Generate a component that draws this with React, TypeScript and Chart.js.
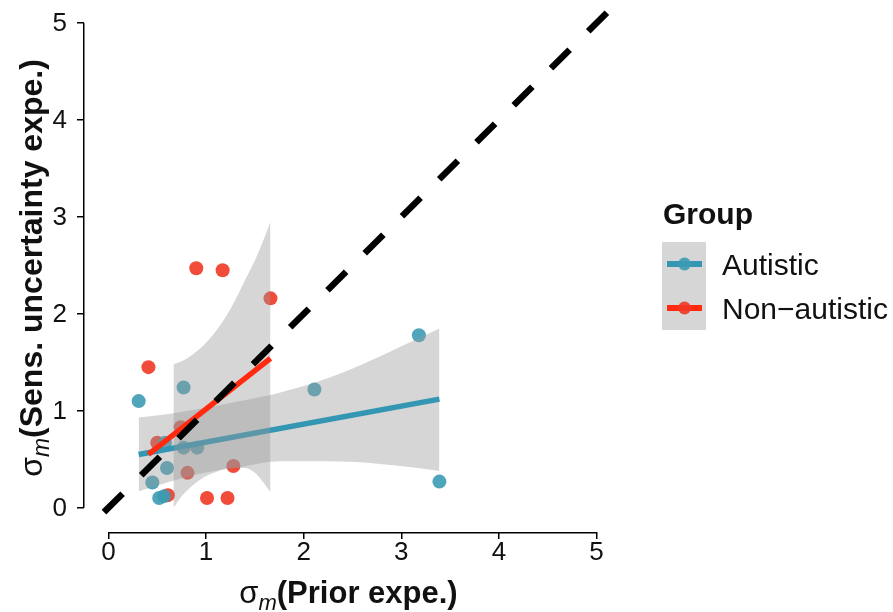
import React, { useEffect, useRef } from 'react';
import { Chart, registerables } from 'chart.js';

Chart.register(...registerables);

// ---- data ----
const tickValues = [0, 1, 2, 3, 4, 5];
const groupNames = ['Autistic', 'Non\u2212autistic'];

const autisticX = [0.31, 0.77, 0.58, 0.77, 0.91, 0.60, 0.45, 0.52, 0.57, 2.11, 3.18, 3.39];
const autisticY = [1.10, 1.24, 0.67, 0.62, 0.62, 0.41, 0.26, 0.10, 0.12, 1.22, 1.78, 0.27];

const nonAutisticX = [0.90, 1.17, 1.66, 0.41, 0.50, 0.74, 0.81, 1.28, 0.61, 1.01, 1.22];
const nonAutisticY = [2.47, 2.45, 2.16, 1.45, 0.67, 0.83, 0.36, 0.43, 0.13, 0.10, 0.10];

const autisticFitX = [0.31, 3.39];
const autisticFitY = [0.55, 1.12];
const nonAutisticFitX = [0.41, 1.66];
const nonAutisticFitY = [0.55, 1.54];

const autisticBandX = [0.31, 0.635, 0.94, 1.35, 1.76, 2.17, 2.58, 2.99, 3.39];
const autisticBandUpper = [0.93, 0.97, 1.02, 1.10, 1.19, 1.31, 1.47, 1.66, 1.85];
const autisticBandLower = [0.17, 0.27, 0.35, 0.42, 0.48, 0.48, 0.47, 0.43, 0.38];

const nonAutisticBandX = [0.666, 0.75, 0.85, 0.97, 1.10, 1.25, 1.40, 1.50, 1.58, 1.66];
const nonAutisticBandUpper = [1.48, 1.51, 1.57, 1.67, 1.82, 2.05, 2.35, 2.55, 2.74, 2.95];
const nonAutisticBandLower = [0.00, 0.12, 0.22, 0.31, 0.37, 0.41, 0.41, 0.36, 0.27, 0.16];

const identityX = [-0.22, 5.25];

// ---- styles ----
const FONT = '"Liberation Sans", Arial, sans-serif';
const TEAL_PT = 'rgba(60,155,180,0.9)';
const RED_PT = 'rgba(240,55,35,0.9)';
const TEAL_LINE = '#3397b3';
const RED_LINE = '#ff2a10';
const BAND = 'rgba(153,153,153,0.4)';
const TEXT = '#111';

const pts = (xs: number[], ys: number[]) => xs.map((x, i) => ({ x, y: ys[i] }));

function drawRich(
  ctx: CanvasRenderingContext2D,
  parts: { text: string; font: string; dy: number }[],
  cx: number,
  baseline: number
) {
  let total = 0;
  const widths = parts.map((p) => {
    ctx.font = p.font;
    const w = ctx.measureText(p.text).width;
    total += w;
    return w;
  });
  let x = cx - total / 2;
  ctx.textAlign = 'left';
  ctx.textBaseline = 'alphabetic';
  parts.forEach((p, i) => {
    ctx.font = p.font;
    ctx.fillText(p.text, x, baseline + p.dy);
    x += widths[i];
  });
}

const decor = {
  id: 'decor',
  afterDraw(chart: any) {
    const { ctx, chartArea, scales } = chart;
    const xs = scales.x;
    const ys = scales.y;
    ctx.save();
    // capped axis lines
    ctx.strokeStyle = '#000';
    ctx.lineWidth = 1.5;
    ctx.beginPath();
    ctx.moveTo(xs.getPixelForValue(tickValues[0]), chartArea.bottom + 0.75);
    ctx.lineTo(xs.getPixelForValue(tickValues[tickValues.length - 1]), chartArea.bottom + 0.75);
    ctx.moveTo(chartArea.left - 0.25, ys.getPixelForValue(tickValues[0]));
    ctx.lineTo(chartArea.left - 0.25, ys.getPixelForValue(tickValues[tickValues.length - 1]));
    ctx.stroke();

    // y tick labels
    ctx.fillStyle = TEXT;
    ctx.font = `26px ${FONT}`;
    ctx.textAlign = 'right';
    ctx.textBaseline = 'middle';
    tickValues.forEach((v) => {
      ctx.fillText(String(v), chartArea.left - 17, ys.getPixelForValue(v) + 1);
    });

    // axis titles
    const cx = (xs.getPixelForValue(0) + xs.getPixelForValue(5)) / 2;
    drawRich(
      ctx,
      [
        { text: '\u03c3', font: `31px ${FONT}`, dy: 0 },
        { text: 'm', font: `italic 22px ${FONT}`, dy: 7 },
        { text: '(Prior expe.)', font: `bold 31px ${FONT}`, dy: 0 },
      ],
      cx - 4,
      603
    );
    const cy = 268;
    ctx.save();
    ctx.translate(42, cy);
    ctx.rotate(-Math.PI / 2);
    drawRich(
      ctx,
      [
        { text: '\u03c3', font: `32px ${FONT}`, dy: 0 },
        { text: 'm', font: `italic 23px ${FONT}`, dy: 7 },
        { text: '(Sens. uncertainty expe.)', font: `bold 32px ${FONT}`, dy: 0 },
      ],
      0,
      0
    );
    ctx.restore();

    // legend
    ctx.fillStyle = TEXT;
    ctx.font = `bold 30px ${FONT}`;
    ctx.textAlign = 'left';
    ctx.textBaseline = 'alphabetic';
    ctx.fillText('Group', 663, 224);
    ctx.fillStyle = BAND;
    ctx.fillRect(662, 242, 44, 88);
    const rows = [
      { y: 264, line: TEAL_LINE, pt: TEAL_PT, label: groupNames[0], base: 275 },
      { y: 308, line: RED_LINE, pt: RED_PT, label: groupNames[1], base: 319 },
    ];
    rows.forEach((r) => {
      ctx.strokeStyle = r.line;
      ctx.lineWidth = 6;
      ctx.beginPath();
      ctx.moveTo(667, r.y);
      ctx.lineTo(702, r.y);
      ctx.stroke();
      ctx.fillStyle = r.pt;
      ctx.beginPath();
      ctx.arc(684.5, r.y, 6.5, 0, Math.PI * 2);
      ctx.fill();
      ctx.fillStyle = TEXT;
      ctx.font = `30px ${FONT}`;
      ctx.fillText(r.label, 722, r.base);
    });
    ctx.restore();
  },
};

export default function App() {
  const ref = useRef<HTMLCanvasElement>(null);

  useEffect(() => {
    const canvas = ref.current;
    if (!canvas) return;
    const bandCommon = {
      borderColor: 'rgba(0,0,0,0)',
      borderWidth: 0,
      pointRadius: 0,
      cubicInterpolationMode: 'monotone' as const,
    };
    const chart = new Chart(canvas, {
      type: 'line',
      data: {
        datasets: [
          {
            label: 'identity',
            data: pts(identityX, identityX),
            borderColor: '#000',
            borderWidth: 6.5,
            borderDash: [26.25, 26.25],
            borderDashOffset: 28.5,
            pointRadius: 0,
            fill: false,
            order: 0,
          },
          {
            label: groupNames[1] + ' fit',
            data: pts(nonAutisticFitX, nonAutisticFitY),
            borderColor: RED_LINE,
            borderWidth: 5.5,
            pointRadius: 0,
            fill: false,
            order: 1,
          },
          {
            label: groupNames[1] + ' upper',
            data: pts(nonAutisticBandX, nonAutisticBandUpper),
            ...bandCommon,
            fill: '+1',
            backgroundColor: BAND,
            order: 2,
          },
          {
            label: groupNames[1] + ' lower',
            data: pts(nonAutisticBandX, nonAutisticBandLower),
            ...bandCommon,
            fill: false,
            order: 2,
          },
          {
            label: groupNames[0] + ' fit',
            data: pts(autisticFitX, autisticFitY),
            borderColor: TEAL_LINE,
            borderWidth: 5.5,
            pointRadius: 0,
            fill: false,
            order: 3,
          },
          {
            label: groupNames[0] + ' upper',
            data: pts(autisticBandX, autisticBandUpper),
            ...bandCommon,
            fill: '+1',
            backgroundColor: BAND,
            order: 4,
          },
          {
            label: groupNames[0] + ' lower',
            data: pts(autisticBandX, autisticBandLower),
            ...bandCommon,
            fill: false,
            order: 4,
          },
          {
            label: groupNames[0],
            data: pts(autisticX, autisticY),
            showLine: false,
            pointRadius: 7,
            pointBackgroundColor: TEAL_PT,
            pointBorderWidth: 0,
            borderColor: 'rgba(0,0,0,0)',
            order: 5,
          },
          {
            label: groupNames[1],
            data: pts(nonAutisticX, nonAutisticY),
            showLine: false,
            pointRadius: 7,
            pointBackgroundColor: RED_PT,
            pointBorderWidth: 0,
            borderColor: 'rgba(0,0,0,0)',
            order: 6,
          },
        ],
      },
      options: {
        responsive: false,
        animation: false,
        devicePixelRatio: 1,
        layout: { autoPadding: false, padding: { left: 0, top: 0, right: 272, bottom: 0 } },
        plugins: {
          legend: { display: false },
          tooltip: { enabled: false },
          title: { display: false },
        },
        scales: {
          x: {
            type: 'linear',
            min: -0.25,
            max: 5.25,
            afterBuildTicks: (s: any) => {
              s.ticks = tickValues.map((v) => ({ value: v }));
            },
            afterFit: (s: any) => {
              s.height = 80;
            },
            grid: {
              display: true,
              drawOnChartArea: false,
              drawTicks: true,
              tickLength: 7,
              color: '#000',
              lineWidth: 1.5,
            },
            border: { display: false },
            ticks: {
              font: { family: FONT, size: 26 },
              color: TEXT,
              padding: -2,
              maxRotation: 0,
              autoSkip: false,
              callback: (v: any) => String(v),
            },
          },
          y: {
            type: 'linear',
            min: -0.25,
            max: 5.237,
            afterBuildTicks: (s: any) => {
              s.ticks = tickValues.map((v) => ({ value: v }));
            },
            afterFit: (s: any) => {
              s.width = 84;
            },
            grid: {
              display: true,
              drawOnChartArea: false,
              drawTicks: true,
              tickLength: 7,
              color: '#000',
              lineWidth: 1.5,
            },
            border: { display: false },
            ticks: {
              display: false,
            },
          },
        },
      } as any,
      plugins: [decor],
    });
    return () => chart.destroy();
  }, []);

  return (
    <div style={{ position: 'absolute', left: 0, top: 0, width: 893, height: 612, background: '#fff' }}>
      <canvas ref={ref} width={893} height={612} style={{ display: 'block', width: 893, height: 612 }} />
    </div>
  );
}
